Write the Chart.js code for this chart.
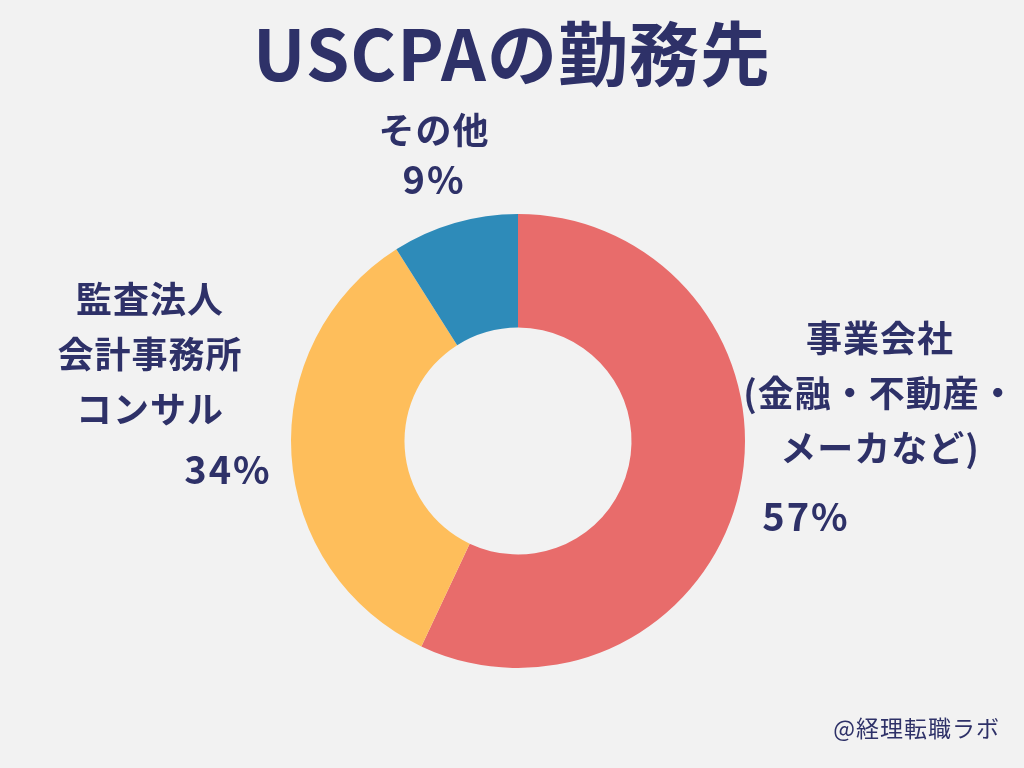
<!DOCTYPE html>
<html lang="ja">
<head>
<meta charset="utf-8">
<title>USCPAの勤務先</title>
<script src="https://cdn.jsdelivr.net/npm/chart.js@4/dist/chart.umd.min.js"></script>
<style>
    html, body { margin: 0; padding: 0; background: #F2F2F2; }
    #wrap { width: 1024px; height: 768px; position: relative; }
</style>
</head>
<body>
<div id="wrap"><canvas id="chart" width="1024" height="768"></canvas></div>
<script>
// Data
const chartTitle = 'USCPAの勤務先';
const categories = ['事業会社(金融・不動産・メーカなど)', '監査法人・会計事務所・コンサル', 'その他'];
const shares = [57, 34, 9];
const sliceColors = ['#E86C6B', '#FEBE5B', '#2E8BB9'];
// label lines per slice, as shown in the picture
const labelLines = [
    ['事業会社', '(金融・不動産・', 'メーカなど)'],
    ['監査法人', '会計事務所', 'コンサル'],
    ['その他']
];
const credit = '@経理転職ラボ';

const ink = '#2E3168';
const fontFamily = '"Noto Sans CJK JP", "Noto Sans", sans-serif';

// Label placement (layout only)
const labelLayout = [
    { x: 880, y: 338, pctX: 806, pctY: 517 },
    { x: 150, y: 299, pctX: 228, pctY: 470 },
    { x: 434, y: 130, pctX: 434, pctY: 180 }
];

const labelPlugin = {
    id: 'labels',
    afterDraw(chart) {
        const ctx = chart.ctx;
        ctx.save();
        ctx.fillStyle = ink;
        ctx.textAlign = 'center';
        ctx.textBaseline = 'middle';

        // title
        ctx.font = 'bold 70px ' + fontFamily;
        ctx.letterSpacing = '1px';
        ctx.fillText(chartTitle, 512, 54);

        // slice labels
        labelLines.forEach((lines, i) => {
            const pos = labelLayout[i];
            ctx.font = 'bold 36px ' + fontFamily;
            ctx.letterSpacing = '1px';
            lines.forEach((line, j) => {
                ctx.fillText(line, pos.x, pos.y + j * 55);
            });
            ctx.font = 'bold 38px ' + fontFamily;
            ctx.letterSpacing = '2px';
            ctx.fillText(shares[i] + '%', pos.pctX, pos.pctY);
        });

        // credit
        ctx.font = '23px ' + fontFamily;
        ctx.letterSpacing = '1px';
        ctx.textAlign = 'right';
        ctx.fillText(credit, 1000, 728);
        ctx.restore();
    }
};

new Chart(document.getElementById('chart'), {
    type: 'doughnut',
    data: {
        labels: categories,
        datasets: [{
            data: shares,
            backgroundColor: sliceColors,
            borderWidth: 0,
            hoverOffset: 0
        }]
    },
    options: {
        responsive: false,
        animation: false,
        cutout: '50%',
        layout: {
            padding: { left: 291, right: 279, top: 214, bottom: 100 }
        },
        plugins: {
            legend: { display: false },
            tooltip: { enabled: false }
        }
    },
    plugins: [labelPlugin]
});
</script>
</body>
</html>
